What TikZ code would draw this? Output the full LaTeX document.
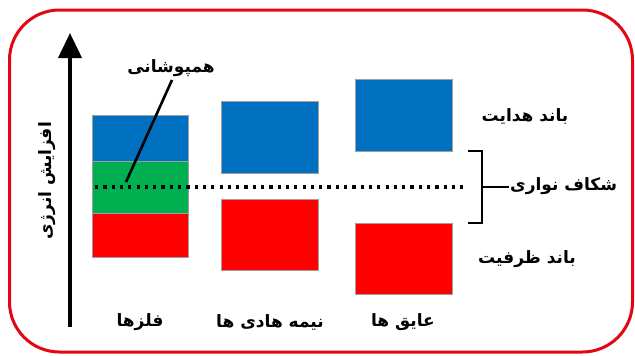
\documentclass[tikz,border=0pt]{standalone}
\usepackage{fontspec}
\usetikzlibrary{arrows.meta}
\newfontfamily\farsi[Script=Arabic]{DejaVu Sans}
\TeXXeTstate=1
\definecolor{bandblue}{HTML}{0070C0}
\definecolor{bandgreen}{HTML}{00B050}
\definecolor{bandred}{HTML}{FF0000}
\definecolor{framered}{HTML}{E30613}

\begin{document}
\begin{tikzpicture}[x=1pt,y=-1pt]
\tikzset{band/.style={draw=gray!75, line width=0.8pt, anchor=north west, inner sep=0pt, outer sep=0pt}}
\tikzset{txt/.style={font=\farsi\bfseries\fontsize{17}{20}\selectfont, inner sep=1pt}}
\tikzset{thickline/.style={line width=2.6pt}}

\useasboundingbox (0,0) rectangle (635,356);
\draw[framered, line width=3pt, rounded corners=50pt] (9.5,10) rectangle (632.5,352);

% energy axis
\coordinate (ebot) at (70,327);
\coordinate (etop) at (70,33);
\draw[line width=4pt, -{Triangle[width=23pt,length=25pt]}] (ebot) -- (etop);
\node[txt, rotate=90] (eaxis) at (47,181) {\beginR افزایش انرژی\endR};

% metals
\node[band, fill=bandblue, minimum width=96pt, minimum height=46pt] (mcond) at (92,115) {};
\node[band, fill=bandgreen, minimum width=96pt, minimum height=52pt] (mover) at (92,161) {};
\node[band, fill=bandred, minimum width=96pt, minimum height=44pt] (mval) at (92,213) {};

% semiconductors
\node[band, fill=bandblue, minimum width=97pt, minimum height=72pt] (scond) at (221,101) {};
\node[band, fill=bandred, minimum width=97pt, minimum height=71pt] (sval) at (221,199) {};

% insulators
\node[band, fill=bandblue, minimum width=97pt, minimum height=72pt] (icond) at (355,79) {};
\node[band, fill=bandred, minimum width=97pt, minimum height=71pt] (ival) at (355,223) {};

% fermi level
\coordinate (fstart) at (95,187);
\coordinate (fend) at (463,187);
\draw[line width=3.2pt, dash pattern=on 3.2pt off 5.1pt] (fstart) -- (fend);

% overlap pointer
\node[txt] (overlap) at (171,68) {\beginR همپوشانی\endR};
\coordinate (ovend) at (126,182);
\draw[thickline] (172,80) -- (ovend);

% band gap bracket
\coordinate (gtop) at (482,151);
\coordinate (gbot) at (482,223);
\coordinate (gmid) at (482,187);
\node[txt, anchor=west] (gap) at (509,186) {\beginR شکاف نواری\endR};
\draw[thickline] ([xshift=-14pt]gtop) -- (gtop) -- (gbot) -- ([xshift=-14pt]gbot);
\draw[thickline] (gmid) -- (gmid -| gap.west);

% band names
\node[txt] (condname) at (525,117) {\beginR باند هدایت\endR};
\node[txt] (valname) at (527,259) {\beginR باند ظرفیت\endR};

% materials
\node[txt] (metals) at (140,322) {\beginR فلزها\endR};
\node[txt] (semis) at (270,322) {\beginR نیمه هادی ها\endR};
\node[txt] (insul) at (403,322) {\beginR عایق ها\endR};
\end{tikzpicture}
\end{document}
